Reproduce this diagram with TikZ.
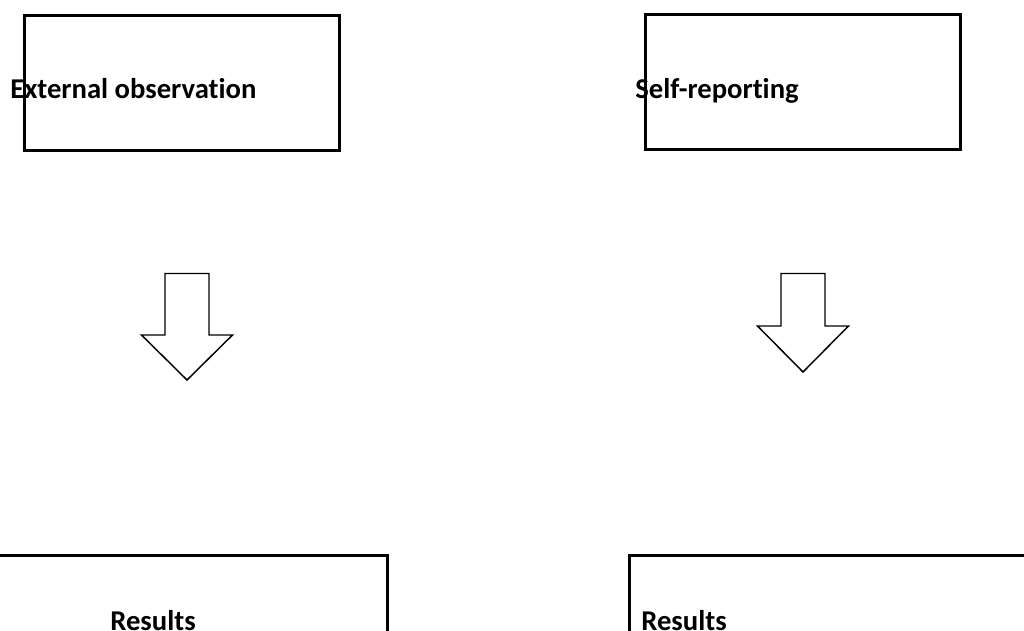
\documentclass[tikz,border=0pt]{standalone}
\usepackage{fontspec}
\setmainfont{Carlito}[Ligatures=NoCommon]
\tikzset{
  box/.style={draw, line width=2.25pt, inner sep=0pt, minimum width=236.25pt, minimum height=101.25pt},
  widebox/.style={box, minimum width=354pt},
  label/.style={inner sep=0pt, anchor=base west, font=\fontsize{21.5}{25}\selectfont\bfseries},
  blockarrow/.style={draw, line width=1.1pt, line join=miter, fill=white}
}
\begin{document}
\begin{tikzpicture}[x=0.75pt, y=-0.75pt]
    \useasboundingbox (0,0) rectangle (1024,631);
    \clip (0,0) rectangle (1024,631);
        \node[box] (obs) at (182,83) {};
        \node[box] (self) at (803,82) {};
        \node[widebox] (resA) at (151.25,622.75) {};
        \node[widebox] (resB) at (865.5,622.75) {};
    \node[label] (obstext) at (10,99) {External observation};
    \node[label] (selftext) at (635,99) {Self-reporting};
    \node[label] (resAtext) at (110,630) {Results};
    \node[label] (resBtext) at (641,630) {Results};
% block arrows
\foreach \cx/\top/\sh/\tip in {187/273.5/335/380, 803/273.5/326/372}
{
    \draw[blockarrow] (\cx-22,\top)--(\cx+22,\top)--(\cx+22,\sh)--(\cx+45.5,\sh)
        --(\cx,\tip)--(\cx-45.5,\sh)--(\cx-22,\sh)--cycle;
}
    \end{tikzpicture}
\end{document}
